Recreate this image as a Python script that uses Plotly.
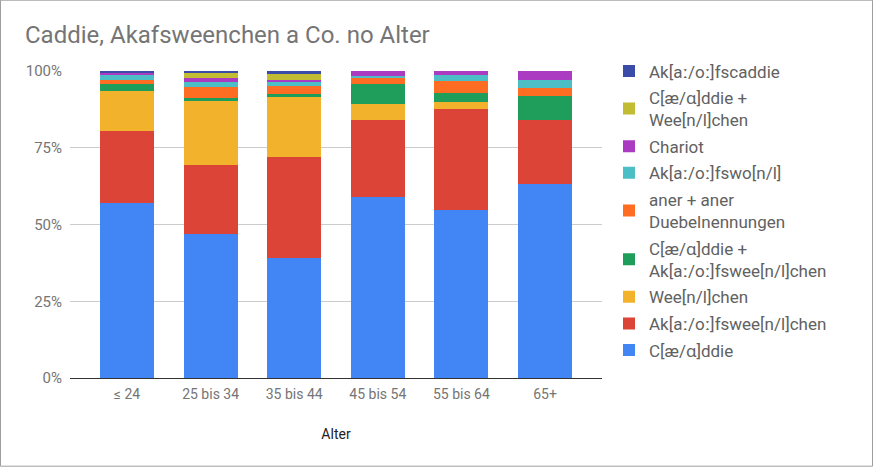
import plotly.graph_objects as go

categories = ["≤ 24", "25 bis 34", "35 bis 44", "45 bis 54", "55 bis 64", "65+"]

caddie = [57.1, 47.0, 39.0, 59.1, 54.6, 63.1]
akfsweenchen = [23.2, 22.3, 32.9, 24.8, 32.9, 21.1]
weenchen = [13.3, 20.8, 19.8, 5.2, 2.3, 0.0]
caddie_akfsweenchen = [2.3, 1.0, 0.65, 6.8, 2.9, 7.8]
aner = [1.3, 3.7, 2.9, 1.95, 4.2, 2.6]
akfswon = [1.6, 1.5, 1.3, 0.65, 1.95, 2.6]
chariot = [0.8, 1.3, 0.65, 1.5, 1.15, 2.8]
caddie_weenchen = [0.0, 1.6, 1.95, 0.0, 0.0, 0.0]
akfscaddie = [0.4, 0.8, 0.85, 0.0, 0.0, 0.0]

series_names = [
    "C[æ/ɑ]ddie",
    "Ak[aː/oː]fswee[n/l]chen",
    "Wee[n/l]chen",
    "C[æ/ɑ]ddie +<br>Ak[aː/oː]fswee[n/l]chen",
    "aner + aner<br>Duebelnennungen",
    "Ak[aː/oː]fswo[n/l]",
    "Chariot",
    "C[æ/ɑ]ddie +<br>Wee[n/l]chen",
    "Ak[aː/oː]fscaddie",
]
series_values = [caddie, akfsweenchen, weenchen, caddie_akfsweenchen, aner,
                 akfswon, chariot, caddie_weenchen, akfscaddie]
colors = ["#4285F4", "#DB4437", "#F2B22B", "#1E9D5B", "#FF6D22",
          "#4BBEC6", "#AB3CC2", "#C2BC33", "#3A4BA8"]

W, H = 873, 467
PL, PR, PT, PB = 70, 602, 71.3, 378.3
pw, ph = PR - PL, PB - PT

fig = go.Figure()
for i, (name, vals, col) in enumerate(zip(series_names, series_values, colors)):
    fig.add_trace(go.Bar(
        x=list(range(len(categories))), y=vals, name=name,
        marker=dict(color=col, line=dict(width=0)),
        legendgroup=f"g{i}",
        legendrank=1000 - i,
    ))

def px_x(p):
    return (p - PL) / pw

def px_y(p):
    return (PB - p) / ph

fig.update_layout(
    width=W, height=H,
    margin=dict(l=PL, r=W - PR, t=PT, b=H - PB, pad=0, autoexpand=False),
    barmode="stack", barnorm="percent", bargap=0.354,
    plot_bgcolor="white", paper_bgcolor="white",
    font=dict(family="Roboto, Noto Sans, DejaVu Sans", color="#757575", size=14),
    title=dict(text="Caddie, Akafsweenchen a Co. no Alter",
               font=dict(size=24, color="#757575"),
               x=25 / W, xanchor="left", y=1 - 35 / H, yanchor="middle"),
    xaxis=dict(
        range=[-0.682, 5.682], tickmode="array",
        tickvals=list(range(len(categories))), ticktext=categories,
        showgrid=False, zeroline=False, showline=True, linecolor="#333333",
        linewidth=1, ticks="", ticklabelstandoff=3,
        tickfont=dict(size=14, color="#757575"),
        title=dict(text="Alter", font=dict(size=14, color="#222222"), standoff=28),
        fixedrange=True,
    ),
    yaxis=dict(
        range=[0, 100], tickvals=[0, 25, 50, 75, 100],
        ticktext=["0%", "25%", "50%", "75%", "100%"],
        showgrid=True, gridcolor="#cccccc", gridwidth=1, zeroline=False,
        ticks="", ticklabelstandoff=7, tickfont=dict(size=15, color="#757575"),
        fixedrange=True,
    ),
    legend=dict(
        x=px_x(609), xanchor="left", y=px_y(53.7), yanchor="top",
        traceorder="grouped", tracegroupgap=1.5, maxheight=440,
        font=dict(size=17, color="#616161"),
        bgcolor="rgba(0,0,0,0)", borderwidth=0,
    ),
    shapes=[dict(type="rect", xref="paper", yref="paper",
                 x0=px_x(0.5), x1=px_x(872.5), y0=px_y(466.5), y1=px_y(0.5),
                 line=dict(color="#9e9e9e", width=1), layer="above")],
)

fig.write_html("out.html", config={"displayModeBar": False},
               post_script="document.body.style.margin='0';document.body.style.overflow='hidden';")
